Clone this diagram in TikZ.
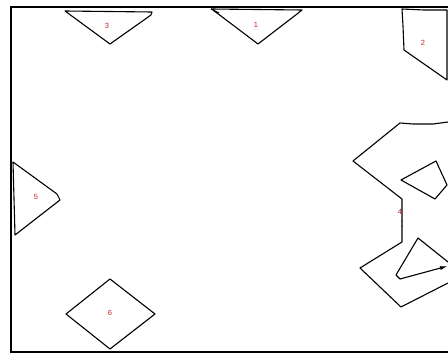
\documentclass[tikz,border=0pt]{standalone}
\usepackage{fontspec}
\setmainfont{Liberation Sans}
\usetikzlibrary{arrows.meta}
\definecolor{lblred}{HTML}{C8202A}
\begin{document}
\begin{tikzpicture}[x=1pt,y=-1pt,
  shapeline/.style={draw=black,line width=1.1pt,line join=round},
  frameline/.style={draw=black,line width=2pt},
  lbl/.style={text=lblred,font=\fontsize{7.5}{8}\selectfont,inner sep=0pt}]
\useasboundingbox (0,0) rectangle (448,353);
\fill[white] (0,0) rectangle (448,353);
% frame
\draw[frameline] (448,7) -- (11,7) -- (11,352) -- (448,352);
% shape 3
\draw[shapeline] (65,11) -- (152,12) -- (151,15) -- (110,44) -- cycle;
\node[lbl] (l3) at (107,26) {3};
% shape 1
\draw[shapeline] (211,9) -- (302,10) -- (297,14) -- (258,44) -- (213,10);
\draw[shapeline] (211,9) -- (219,13);
\node[lbl] (l1) at (256,25) {1};
% shape 2
\draw[shapeline] (402,9) -- (424,10) -- (447,10) -- (447,80) -- (404,50) -- (403,26) -- cycle;
\node[lbl] (l2) at (423,43) {2};
% shape 5
\draw[shapeline] (13,162) -- (57,194) -- (60,200) -- (15,235) -- cycle;
\node[lbl] (l5) at (36,197) {5};
% shape 6
\draw[shapeline] (110,279) -- (155,314) -- (110,349) -- (66,314) -- cycle;
\node[lbl] (l6) at (110,313) {6};
% shape 4 outer
\draw[shapeline] (448,122) -- (433,124) -- (413,124) -- (400,123) -- (353,161)
  -- (402,199) -- (402,242) -- (360,268) -- (401,307) -- (448,283);
% inner quad
\draw[shapeline] (436,161) -- (447,185) -- (435,199) -- (401,180) -- cycle;
% inner triangle
\draw[shapeline] (448,262) -- (418,238) -- (396,275) -- (400,279);
\coordinate (tipstart) at (400,279);
\coordinate (tipend) at (448,266);
\draw[shapeline,-{Latex[length=8pt,width=4pt]}] (tipstart) -- (tipend);
\node[lbl] (l4) at (400,212) {4};
\fill (402,221) circle (0.6) (402,226) circle (0.6);
\end{tikzpicture}
\end{document}
